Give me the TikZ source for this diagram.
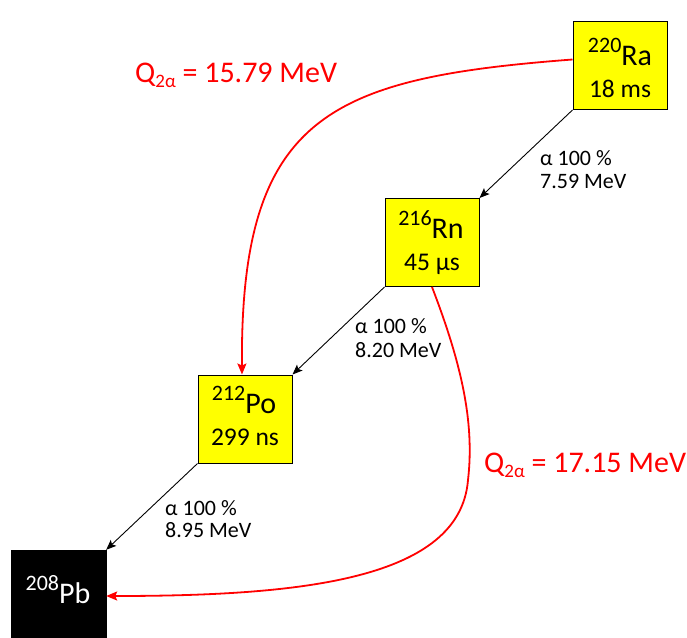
\documentclass[tikz,border=0pt]{standalone}
\usepackage{fontspec}
\setmainfont{Carlito}
\usetikzlibrary{arrows.meta}
\definecolor{boxyellow}{HTML}{FFFF00}
\definecolor{qred}{HTML}{FF0000}
\newcommand{\elem}[2]{\raisebox{13pt}{\fontsize{22}{22}\selectfont #1}{\fontsize{30}{30}\selectfont #2}}
\newcommand{\qtwo}[1]{{\fontsize{30}{30}\selectfont Q\raisebox{-5pt}{\fontsize{19}{19}\selectfont 2α} = #1}}
\begin{document}
\begin{tikzpicture}[x=1pt,y=-1pt,
  nuc/.style={draw=black, line width=1pt, fill=boxyellow, minimum width=94pt, minimum height=88pt, inner sep=0pt},
  pbbox/.style={draw=black, fill=black, minimum width=95pt, minimum height=87pt, inner sep=0pt},
  txt/.style={anchor=base, inner sep=0pt},
  lbl/.style={anchor=base west, inner sep=0pt, font=\fontsize{22}{22}\selectfont},
  qlbl/.style={anchor=base west, inner sep=0pt, text=qred},
  decay/.style={draw=black, line width=0.9pt, -{Stealth[length=10pt,width=8pt,inset=2pt]}},
  qarrow/.style={draw=qred, line width=1.8pt, -{Stealth[length=11pt,width=9pt,inset=2pt]}}
]
\useasboundingbox (0,0) rectangle (687,637);
% boxes
\node[nuc] (ra) at (620,65.5) {};
\node[nuc] (rn) at (432,242.5) {};
\node[nuc] (po) at (245,419) {};
\node[pbbox] (pb) at (58.5,593.5) {};
% box texts
\node[txt] (raname) at (620,65) {\elem{220}{Ra}};
\node[txt] (rahl) at (620,97) {\fontsize{25.5}{25.5}\selectfont 18 ms};
\node[txt] (rnname) at (431,238) {\elem{216}{Rn}};
\node[txt] (rnhl) at (432,270) {\fontsize{25.5}{25.5}\selectfont 45 μs};
\node[txt] (poname) at (244,413) {\elem{212}{Po}};
\node[txt] (pohl) at (245,445) {\fontsize{25.5}{25.5}\selectfont 299 ns};
\node[txt, text=white] (pbname) at (58,603) {\elem{208}{Pb}};
% decay labels
\node[lbl] (l1a) at (540,165) {α 100 \%};
\node[lbl] (l1b) at (540,188) {7.59 MeV};
\node[lbl] (l2a) at (355,333) {α 100 \%};
\node[lbl] (l2b) at (355,357) {8.20 MeV};
\node[lbl] (l3a) at (165,515) {α 100 \%};
\node[lbl] (l3b) at (165,537) {8.95 MeV};
% Q labels
\node[qlbl] (q1) at (135,82) {\qtwo{15.79 MeV}};
\node[qlbl] (q2) at (484,472) {\qtwo{17.15 MeV}};
% decay arrows
\draw[decay] (ra.south west) -- (rn.north east);
\draw[decay] (rn.south west) -- (po.north east);
\draw[decay] (po.south west) -- (pb.north east);
% double alpha arrows
\draw[qarrow] ([yshift=6pt]ra.west) .. controls (330,78) and (240,115) .. ([xshift=-3pt]po.north);
\draw[qarrow] (rn.south) .. controls (460,360) and (475,420) .. (468,480)
  .. controls (460,580) and (300,596) .. ([yshift=-2.5pt]pb.east);
\end{tikzpicture}
\end{document}
